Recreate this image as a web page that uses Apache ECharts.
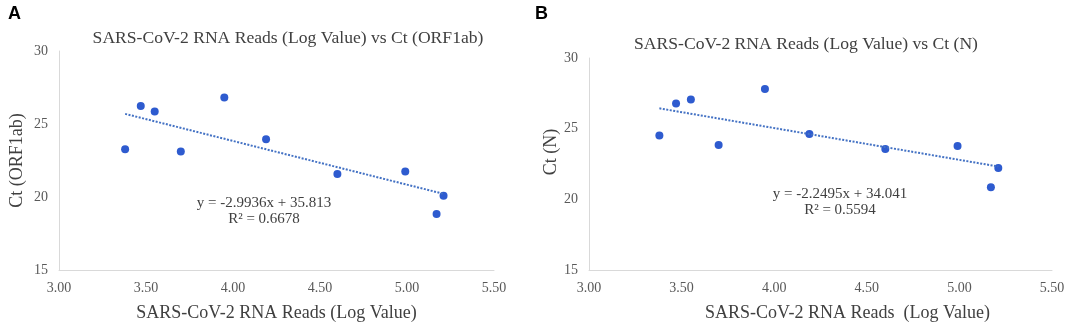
<!DOCTYPE html>
<html>
<head>
<meta charset="utf-8">
<script src="https://cdn.jsdelivr.net/npm/echarts@6/dist/echarts.min.js"></script>
<style>
  html, body { margin: 0; padding: 0; background: #fff; }
  #main { width: 1084px; height: 327px; }
</style>
</head>
<body>
<div id="main"></div>
<script>
// log reads (same samples in both panels)
const logReads = [3.38, 3.47, 3.55, 3.95, 3.70, 4.19, 4.60, 4.99, 5.21, 5.17];
// Ct values
const ctORF1ab = [23.27, 26.23, 25.86, 26.82, 23.11, 23.95, 21.57, 21.75, 20.09, 18.84];
const ctN = [24.52, 26.78, 27.06, 27.81, 23.84, 24.62, 23.56, 23.77, 22.22, 20.85];
// linear fits shown on the charts
const fitA = { slope: -2.9936, intercept: 35.813, r2: "0.6678" };
const fitB = { slope: -2.2495, intercept: 34.041, r2: "0.5594" };

const serif = "Liberation Serif";
const dotColor = "#2E5BCF";
const lineColor = "#4472C4";

function trend(fit) {
  const lo = Math.min(...logReads), hi = Math.max(...logReads);
  return [lo, hi].map(x => [x, fit.slope * x + fit.intercept]);
}
function pts(ys) {
  return logReads.map((x, i) => [x, ys[i]]);
}
function eqText(fit) {
  const sign = fit.intercept >= 0 ? "+" : "-";
  return "y = " + fit.slope + "x " + sign + " " + Math.abs(fit.intercept) + "\nR² = " + fit.r2;
}

const axisLine = { show: true, lineStyle: { color: "#d9d9d9", width: 1 } };
const tickLabel = { fontFamily: serif, fontSize: 14, color: "#595959" };

function xAxis(idx, name, pad) {
  return {
    type: "value", gridIndex: idx, min: 3, max: 5.5, interval: 0.5,
    axisLine: axisLine, axisTick: { show: false }, splitLine: { show: false },
    axisLabel: Object.assign({ margin: 11, formatter: v => v.toFixed(2) }, tickLabel),
    name: name, nameLocation: "middle", nameGap: 34,
    nameTextStyle: { fontFamily: serif, fontSize: 18, color: "#404040", padding: pad }
  };
}
function yAxis(idx, name, gap, pad) {
  return {
    type: "value", gridIndex: idx, min: 15, max: 30, interval: 5,
    axisLine: axisLine, axisTick: { show: false }, splitLine: { show: false },
    axisLabel: Object.assign({ margin: 11 }, tickLabel),
    name: name, nameLocation: "middle", nameGap: gap,
    nameTextStyle: { fontFamily: serif, fontSize: 18, color: "#404040", padding: pad }
  };
}

const chart = echarts.init(document.getElementById("main"));
chart.setOption({
  animation: false,
  title: [
    { text: "SARS-CoV-2 RNA Reads (Log Value) vs Ct (ORF1ab)", left: 283, top: 24, textAlign: "center",
      textStyle: { fontFamily: serif, fontSize: 17.6, fontWeight: "normal", color: "#404040" } },
    { text: "SARS-CoV-2 RNA Reads (Log Value) vs Ct (N)", left: 801, top: 30, textAlign: "center",
      textStyle: { fontFamily: serif, fontSize: 17.6, fontWeight: "normal", color: "#404040" } }
  ],
  grid: [
    { left: 59, top: 51, width: 435, height: 219, outerBoundsMode: "none" },
    { left: 589, top: 58, width: 463, height: 212, outerBoundsMode: "none" }
  ],
  xAxis: [
    xAxis(0, "SARS-CoV-2 RNA Reads (Log Value)", [0, 0, 0, 0]),
    xAxis(1, "SARS-CoV-2 RNA Reads  (Log Value)", [0, 0, 0, 54])
  ],
  yAxis: [
    yAxis(0, "Ct (ORF1ab)", 33, [0, 0, 0, 0]),
    yAxis(1, "Ct (N)", 28, [0, 0, 0, 24])
  ],
  graphic: [
    { type: "text", left: 8, top: 5, style: { text: "A", font: "bold 18px Liberation Sans", fill: "#000" } },
    { type: "text", left: 535, top: 5, style: { text: "B", font: "bold 18px Liberation Sans", fill: "#000" } },
    { type: "text", x: 264, y: 195, style: { text: eqText(fitA), font: "15px " + serif, fill: "#404040", align: "center", lineHeight: 16 } },
    { type: "text", x: 840, y: 186, style: { text: eqText(fitB), font: "15px " + serif, fill: "#404040", align: "center", lineHeight: 16 } }
  ],
  series: [
    { type: "line", xAxisIndex: 0, yAxisIndex: 0, data: trend(fitA), symbol: "none",
      lineStyle: { color: lineColor, width: 2, type: [2, 1.5] } },
    { type: "scatter", xAxisIndex: 0, yAxisIndex: 0, data: pts(ctORF1ab), symbolSize: 8,
      itemStyle: { color: dotColor, opacity: 1 } },
    { type: "line", xAxisIndex: 1, yAxisIndex: 1, data: trend(fitB), symbol: "none",
      lineStyle: { color: lineColor, width: 2, type: [2, 1.5] } },
    { type: "scatter", xAxisIndex: 1, yAxisIndex: 1, data: pts(ctN), symbolSize: 8,
      itemStyle: { color: dotColor, opacity: 1 } }
  ]
});
</script>
</body>
</html>
